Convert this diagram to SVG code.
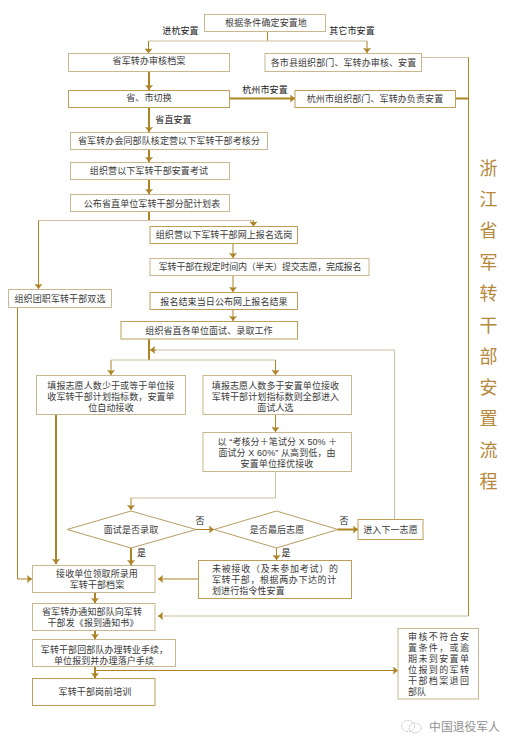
<svg xmlns="http://www.w3.org/2000/svg" width="516" height="750" viewBox="0 0 516 750">
<defs>
<marker id="a" viewBox="0 0 5 8" refX="5" refY="4" markerWidth="5.5" markerHeight="8" markerUnits="userSpaceOnUse" orient="auto"><path d="M0 0L5 4L0 8L.8 4Z" fill="#ad8326"/></marker>
</defs>
<style>
text{font-family:"Liberation Sans","Noto Sans CJK SC",sans-serif;font-size:9px;fill:#3a3a3a;text-anchor:middle;letter-spacing:.1px}
rect{fill:#fff;stroke:#c9b78f;stroke-width:1}
rect.d{stroke:#bd9f5a}
polygon{fill:#fff;stroke:#b59c63;stroke-width:1}
.c path{fill:none;stroke:#ad8326;stroke-width:1}
.c path.t{stroke-width:2}
.c path.l{stroke:#cdbf9f}
.c path.m{marker-end:url(#a)}
.title{font-size:18px;fill:#b5883a;letter-spacing:0}
.lb{fill:#222}
.wm{font-size:11.8px;fill:#8f8f8f;letter-spacing:0}
.s{text-anchor:start}
</style>
<rect width="516" height="750" style="fill:#fff;stroke:none"/>
<g class="c" id="connectors">
<path d="M267.5 31.500V41"/>
<path class="l" d="M267.500 41H148.500"/><path class="m" d="M148.500 41V53.500"/>
<path class="l" d="M267.500 41H367"/><path class="m" d="M367 41V53"/>
<path class="t m" d="M149 71V90"/>
<path class="t m" d="M229.500 98.500H295"/>
<path class="t" d="M455.500 98.500H468.500"/>
<path class="l" d="M421.500 57.500H468.500"/>
<path d="M468.500 57.500V616"/><path class="l" d="M468.500 616H160"/><path class="m" d="M162 616H158"/>
<path class="t m" d="M149 107.500V132"/>
<path class="t m" d="M149 149.500V162"/>
<path class="t m" d="M149 179.500V194"/>
<path class="t" d="M149 211.500V220.500"/>
<path class="l" d="M149 220.500H38.500"/><path class="m" d="M38.500 220.500V289"/>
<path class="l" d="M149 220.500H253.500"/><path class="m" d="M253.500 220.500V226.500"/>
<path class="m" d="M233 243.500V258"/>
<path class="m" d="M233 275.500V292"/>
<path class="m" d="M233 309.500V321"/>
<path class="t" d="M149 339V360"/>
<path class="l" d="M149 360H111"/><path class="m" d="M111 360V375"/>
<path class="l" d="M149 360H275.500"/><path class="m" d="M275.500 360V375"/>
<path class="l" d="M394.500 519V350"/><path class="l" d="M394.500 350H154"/><path class="m" d="M156 350H150"/>
<path class="m" d="M275.500 414.500V432"/>
<path class="l" d="M275.500 471.500V498H131"/><path class="m" d="M131 498V510"/>
<path class="m" d="M196 529.500H214"/>
<path class="t m" d="M338 529.500H358"/>
<path class="m" d="M276.500 548V560"/>
<path class="t m" d="M131 548V565"/>
<path class="m" d="M198.500 579H158"/>
<path class="t m" d="M56 414.500V564"/>
<path d="M17.500 307.500V579"/><path class="m" d="M17.500 579H32"/>
<path class="t m" d="M95 592.500V603"/>
<path class="t m" d="M95 630.500V639"/>
<path class="t m" d="M95 666.500V678"/>
<path class="m" d="M95 670.500H398"/>
</g>
<g id="n1"><rect x="204.500" y="14.500" width="121" height="17"/><text x="266" y="26">根据条件确定安置地</text></g>
<g id="n2"><rect x="68.500" y="53.500" width="161" height="18"/><text x="149" y="64">省军转办审核档案</text></g>
<g id="n3"><rect x="265" y="53.500" width="156.500" height="18"/><text x="343.500" y="66">各市县组织部门、军转办审核、安置</text></g>
<g id="n4"><rect class="d" x="68.500" y="90.500" width="161" height="17"/><text x="149" y="101">省、市切换</text></g>
<g id="n5"><rect class="d" x="295" y="90.500" width="160.500" height="17"/><text x="375" y="102">杭州市组织部门、军转办负责安置</text></g>
<g id="n6"><rect x="70.500" y="132.500" width="197" height="17"/><text x="169" y="144">省军转办会同部队核定营以下军转干部考核分</text></g>
<g id="n7"><rect x="70.500" y="162.500" width="159" height="17"/><text x="149" y="174">组织营以下军转干部安置考试</text></g>
<g id="n8"><rect x="70.500" y="194.500" width="159" height="17"/><text x="152" y="207">公布省直单位军转干部分配计划表</text></g>
<g id="n9"><rect class="d" x="150" y="226.500" width="147.500" height="17"/><text x="224" y="238">组织营以下军转干部网上报名选岗</text></g>
<g id="n10"><rect x="150" y="258.500" width="219" height="17"/><text x="260" y="270" style="letter-spacing:-.2px">军转干部在规定时间内（半天）提交志愿，完成报名</text></g>
<g id="n11"><rect x="8.500" y="289.500" width="103" height="18"/><text x="60" y="302">组织团职军转干部双选</text></g>
<g id="n12"><rect class="d" x="150" y="292.500" width="147.500" height="17"/><text x="224" y="305">报名结束当日公布网上报名结果</text></g>
<g id="n13"><rect class="d" x="121" y="321.500" width="176.500" height="17.500"/><text x="209" y="334">组织省直各单位面试、录取工作</text></g>
<g id="n14"><rect x="36.500" y="375.500" width="149" height="39"/><text x="111" y="389">填报志愿人数少于或等于单位接<tspan x="111" dy="11">收军转干部计划指标数，安置单</tspan><tspan x="111" dy="11">位自动接收</tspan></text></g>
<g id="n15"><rect x="203" y="375.500" width="148.500" height="39"/><text x="275.500" y="389">填报志愿人数多于安置单位接收<tspan x="275.500" dy="11">军转干部计划指标数则全部进入</tspan><tspan x="275.500" dy="11">面试人选</tspan></text></g>
<g id="n16"><rect x="203" y="432.500" width="148.500" height="39"/><text x="277.500" y="445" xml:space="preserve">以 “考核分＋笔试分 X 50% ＋<tspan x="277" dy="11">面试分 X 60%” 从高到低，由</tspan><tspan x="277" dy="11">安置单位择优接收</tspan></text></g>
<g id="n17"><polygon points="67,529.500 131,511 196,529.500 131,548"/><text x="131" y="533">面试是否录取</text></g>
<g id="n18"><polygon points="214,529.500 276.500,511 338,529.500 276.500,548"/><text x="277" y="533">是否最后志愿</text></g>
<g id="n19"><rect class="d" x="358" y="519.500" width="65" height="20"/><text x="390.500" y="533">进入下一志愿</text></g>
<g id="n20"><rect class="d" x="198.500" y="560.500" width="153" height="38"/><text class="s" x="212" y="572" style="letter-spacing:.75px">未被接收（及未参加考试）的<tspan x="212" dy="11" style="letter-spacing:.6px">军转干部，根据两办下达的计</tspan><tspan x="212" dy="11" style="letter-spacing:.1px">划进行指令性安置</tspan></text></g>
<g id="n21"><rect x="32.500" y="565.500" width="122.500" height="27"/><text x="97" y="577">接收单位领取所录用<tspan x="97" dy="11">军转干部档案</tspan></text></g>
<g id="n22"><rect x="32.500" y="603.500" width="122.500" height="27"/><text x="92" y="615">省军转办通知部队向军转<tspan x="93" dy="11">干部发《报到通知书》</tspan></text></g>
<g id="n23"><rect x="32.500" y="639.500" width="143" height="27"/><text x="104.500" y="653">军转干部回部队办理转业手续，<tspan x="104" dy="11">单位报到并办理落户手续</tspan></text></g>
<g id="n24"><rect class="d" x="32.500" y="678.500" width="122.500" height="27"/><text x="95" y="695">军转干部岗前培训</text></g>
<g id="n25"><rect x="398" y="628.500" width="80.500" height="70.500"/><text class="s" x="408" y="640" style="letter-spacing:1.4px">审核不符合安<tspan x="408" dy="11">置条件，或逾</tspan><tspan x="408" dy="11">期未到安置单</tspan><tspan x="408" dy="11">位报到的军转</tspan><tspan x="408" dy="11">干部档案退回</tspan><tspan x="408" dy="11" style="letter-spacing:.1px">部队</tspan></text></g>
<g id="labels">
<text class="lb" x="180.500" y="34">进杭安置</text>
<text class="lb" x="352" y="34">其它市安置</text>
<text class="lb" x="265" y="93">杭州市安置</text>
<text class="lb" x="173.500" y="123">省直安置</text>
<text class="lb" x="200" y="524">否</text>
<text class="lb" x="344" y="524">否</text>
<text class="lb" x="141.500" y="556">是</text>
<text class="lb" x="286" y="556">是</text>
</g>
<g id="title">
<text class="title" x="488.500" y="175">浙</text><text class="title" x="488.500" y="206">江</text><text class="title" x="488.500" y="237">省</text><text class="title" x="488.500" y="269">军</text><text class="title" x="488.500" y="300">转</text><text class="title" x="488.500" y="332">干</text><text class="title" x="488.500" y="363">部</text><text class="title" x="488.500" y="394">安</text><text class="title" x="488.500" y="425">置</text><text class="title" x="488.500" y="457">流</text><text class="title" x="488.500" y="488">程</text>
</g>
<g id="watermark">
<ellipse cx="408" cy="726" rx="6.500" ry="5.500" fill="none" stroke="#c4c4c4" stroke-width="1" stroke-dasharray="2 1"/><ellipse cx="415" cy="728" rx="6" ry="5" fill="none" stroke="#c4c4c4" stroke-width="1" stroke-dasharray="2 1"/>
<text class="wm" x="464.500" y="731">中国退役军人</text>
</g>
</svg>
